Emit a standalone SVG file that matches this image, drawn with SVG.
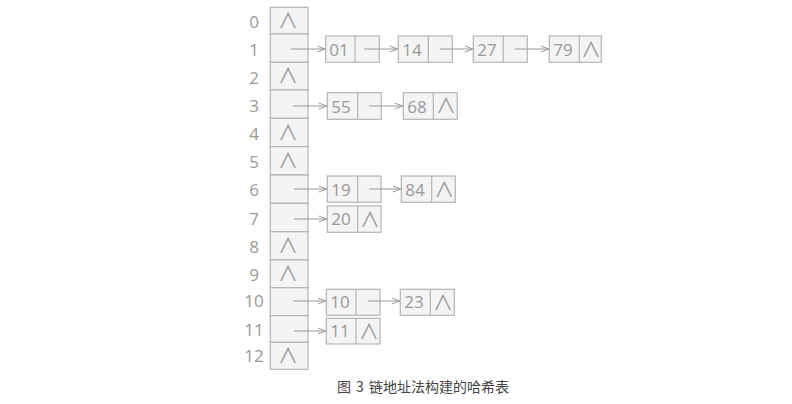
<svg xmlns="http://www.w3.org/2000/svg" width="792" height="404" viewBox="0 0 792 404">
<defs>
<marker id="ah" markerWidth="10" markerHeight="8" refX="9" refY="4" orient="auto" markerUnits="userSpaceOnUse">
<path d="M1,1 L9,4 L1,7" fill="none" stroke="#999" stroke-width="1"/>
</marker>
</defs>
<style>
.cell{fill:#f4f4f4;stroke:#b4b4b4;stroke-width:1.2}
.div{stroke:#b4b4b4;stroke-width:1.2}
.idx{font-family:"Open Sans","Liberation Sans",sans-serif;font-size:17px;fill:#999;text-anchor:middle}
.val{font-family:"Open Sans","Liberation Sans",sans-serif;font-size:17px;fill:#999;text-anchor:middle}
.nil{font-family:"Noto Sans CJK SC",sans-serif;font-size:20px;fill:#999;text-anchor:middle}
.arr{stroke:#999;stroke-width:1;fill:none;marker-end:url(#ah)}
.cap{font-family:"Noto Sans CJK SC",sans-serif;font-size:14px;fill:#444;text-anchor:middle}
</style>
<rect width="792" height="404" fill="#fff"/>
<g id="table">
<rect class="cell" x="270.3" y="7.3" width="37.7" height="26.7"/>
<rect class="cell" x="270.3" y="34" width="37.7" height="28.3"/>
<rect class="cell" x="270.3" y="62.3" width="37.7" height="27.7"/>
<rect class="cell" x="270.3" y="90" width="37.7" height="28.3"/>
<rect class="cell" x="270.3" y="118.3" width="37.7" height="28.3"/>
<rect class="cell" x="270.3" y="146.6" width="37.7" height="28.4"/>
<rect class="cell" x="270.3" y="175" width="37.7" height="28.3"/>
<rect class="cell" x="270.3" y="203.3" width="37.7" height="28.4"/>
<rect class="cell" x="270.3" y="231.7" width="37.7" height="28.3"/>
<rect class="cell" x="270.3" y="260" width="37.7" height="27.7"/>
<rect class="cell" x="270.3" y="287.7" width="37.7" height="28"/>
<rect class="cell" x="270.3" y="315.7" width="37.7" height="26.6"/>
<rect class="cell" x="270.3" y="342.3" width="37.7" height="27"/>
<text class="idx" x="254" y="28">0</text>
<text class="idx" x="254" y="55.5">1</text>
<text class="idx" x="254" y="83.5">2</text>
<text class="idx" x="254" y="111.5">3</text>
<text class="idx" x="254" y="139.5">4</text>
<text class="idx" x="254" y="167.5">5</text>
<text class="idx" x="254" y="196">6</text>
<text class="idx" x="254" y="225">7</text>
<text class="idx" x="254" y="253">8</text>
<text class="idx" x="254" y="281">9</text>
<text class="idx" x="254" y="307">10</text>
<text class="idx" x="254" y="335.5">11</text>
<text class="idx" x="254" y="361.5">12</text>
<text class="nil" transform="translate(288,27.8) scale(1,1.05)">∧</text>
<text class="nil" transform="translate(288,83.4) scale(1,1.05)">∧</text>
<text class="nil" transform="translate(288,139.7) scale(1,1.05)">∧</text>
<text class="nil" transform="translate(288,168) scale(1,1.05)">∧</text>
<text class="nil" transform="translate(288,253.1) scale(1,1.05)">∧</text>
<text class="nil" transform="translate(288,281.1) scale(1,1.05)">∧</text>
<text class="nil" transform="translate(288,363) scale(1,1.05)">∧</text>
</g>
<g id="n01"><rect class="cell" x="325.7" y="36" width="53.6" height="26.3"/><line class="div" x1="355" y1="36" x2="355" y2="62.3"/><text class="val" x="339" y="56">01</text></g>
<g id="n14"><rect class="cell" x="398.3" y="36" width="54" height="26.3"/><line class="div" x1="428.3" y1="36" x2="428.3" y2="62.3"/><text class="val" x="412" y="56">14</text></g>
<g id="n27"><rect class="cell" x="473.3" y="36" width="54" height="26.3"/><line class="div" x1="503.3" y1="36" x2="503.3" y2="62.3"/><text class="val" x="487" y="56">27</text></g>
<g id="n79"><rect class="cell" x="549.3" y="36" width="52" height="26.3"/><line class="div" x1="579.3" y1="36" x2="579.3" y2="62.3"/><text class="val" x="563" y="56">79</text><text class="nil" transform="translate(591,56.5) scale(1,1.05)">∧</text></g>
<g id="n55"><rect class="cell" x="327.3" y="92.7" width="54" height="26.6"/><line class="div" x1="357.7" y1="92.7" x2="357.7" y2="119.3"/><text class="val" x="341" y="113">55</text></g>
<g id="n68"><rect class="cell" x="403.3" y="92.7" width="54" height="26.6"/><line class="div" x1="433.3" y1="92.7" x2="433.3" y2="119.3"/><text class="val" x="417" y="113">68</text><text class="nil" transform="translate(446,113.3) scale(1,1.05)">∧</text></g>
<g id="n19"><rect class="cell" x="327.3" y="176" width="53.7" height="26.3"/><line class="div" x1="357.7" y1="176" x2="357.7" y2="202.3"/><text class="val" x="341" y="196">19</text></g>
<g id="n84"><rect class="cell" x="401.3" y="176" width="54" height="26.3"/><line class="div" x1="431.7" y1="176" x2="431.7" y2="202.3"/><text class="val" x="415" y="196">84</text><text class="nil" transform="translate(444.2,196.5) scale(1,1.05)">∧</text></g>
<g id="n20"><rect class="cell" x="327.3" y="206" width="53.7" height="26.3"/><line class="div" x1="357.7" y1="206" x2="357.7" y2="232.3"/><text class="val" x="341" y="225">20</text><text class="nil" transform="translate(370,226.5) scale(1,1.05)">∧</text></g>
<g id="n10"><rect class="cell" x="326.3" y="289.3" width="53.7" height="26"/><line class="div" x1="356" y1="289.3" x2="356" y2="315.3"/><text class="val" x="340" y="308.3">10</text></g>
<g id="n23"><rect class="cell" x="400.3" y="289.3" width="54" height="26"/><line class="div" x1="430.3" y1="289.3" x2="430.3" y2="315.3"/><text class="val" x="414" y="308.3">23</text><text class="nil" transform="translate(443,309.6) scale(1,1.05)">∧</text></g>
<g id="n11"><rect class="cell" x="326.3" y="318.3" width="53.7" height="25.7"/><line class="div" x1="356" y1="318.3" x2="356" y2="344"/><text class="val" x="340" y="336.7">11</text><text class="nil" transform="translate(369,338.5) scale(1,1.05)">∧</text></g>
<g id="connectors">
<line class="arr" x1="291" y1="49" x2="325.2" y2="49"/>
<line class="arr" x1="364" y1="49" x2="397.8" y2="49"/>
<line class="arr" x1="440" y1="49" x2="472.8" y2="49"/>
<line class="arr" x1="515" y1="49" x2="548.8" y2="49"/>
<line class="arr" x1="293" y1="106" x2="326.8" y2="106"/>
<line class="arr" x1="369" y1="106" x2="402.8" y2="106"/>
<line class="arr" x1="294" y1="189" x2="326.8" y2="189"/>
<line class="arr" x1="369" y1="189" x2="400.8" y2="189"/>
<line class="arr" x1="294" y1="219" x2="326.8" y2="219"/>
<line class="arr" x1="293" y1="301" x2="325.8" y2="301"/>
<line class="arr" x1="368" y1="301" x2="399.8" y2="301"/>
<line class="arr" x1="294" y1="331" x2="325.8" y2="331"/>
</g>
<text class="cap" x="423" y="392">图 <tspan dx="2">3</tspan> <tspan dx="2">链地址法构建的哈希表</tspan></text>
</svg>
